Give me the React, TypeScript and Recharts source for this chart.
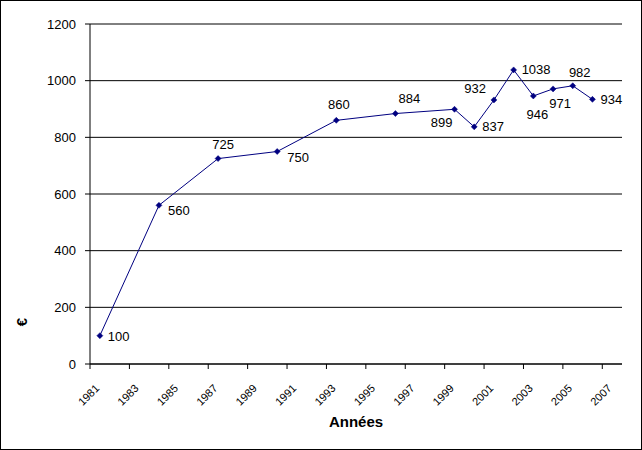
import { LineChart, Line, XAxis, YAxis, CartesianGrid } from 'recharts'

// only the years that have a value; the axis still runs 1981-2007
const years = [1981, 1984, 1987, 1990, 1993, 1996, 1999, 2000, 2001, 2002, 2003, 2004, 2005, 2006]
const values = [100, 560, 725, 750, 860, 884, 899, 837, 932, 1038, 946, 971, 982, 934]

const xTickYears = [1981, 1983, 1985, 1987, 1989, 1991, 1993, 1995, 1997, 1999, 2001, 2003, 2005, 2007]
const yTicks = [0, 200, 400, 600, 800, 1000, 1200]

const xTitle = 'Années'
const yTitle = '€'

const data = years.map((year, i) => ({ year, value: values[i] }))

const FONT = '"Liberation Sans", Arial, sans-serif'
const NAVY = '#000080'

// label placement around each point: dx, dy (to text middle), anchor
const labelPlacement: [number, number, 'start' | 'middle' | 'end'][] = [
  [8, 1, 'start'],
  [9, 5, 'start'],
  [5, -14, 'middle'],
  [10, 6, 'start'],
  [2.5, -16, 'middle'],
  [14, -15, 'middle'],
  [-2, 13, 'end'],
  [8, 0, 'start'],
  [-8, -11, 'end'],
  [8, 0, 'start'],
  [4, 19, 'middle'],
  [7, 15, 'middle'],
  [7, -13, 'middle'],
  [8, 0, 'start'],
]

const Marker = (props: any) => {
  const { cx, cy } = props
  if (cx == null || cy == null) return null
  const s = 3
  return (
    <path
      d={`M${cx},${cy - s} L${cx + s},${cy} L${cx},${cy + s} L${cx - s},${cy} Z`}
      fill={NAVY}
      stroke={NAVY}
      strokeWidth={0.5}
    />
  )
}

const ValueLabel = (props: any) => {
  const { x, y, value, index } = props
  const p = labelPlacement[index] || [8, 0, 'start']
  return (
    <text
      x={x + p[0]}
      y={y + p[1] + 4.5}
      textAnchor={p[2]}
      fontSize={13}
      fontFamily={FONT}
      fill="#000"
    >
      {value}
    </text>
  )
}

const YearTick = (props: any) => {
  const { x, y, payload } = props
  return (
    <text
      transform={`translate(${x + 10},${y + 18}) rotate(-45)`}
      textAnchor="end"
      fontSize={11}
      fontFamily={FONT}
      fill="#000"
    >
      {payload.value + 0.5}
    </text>
  )
}

export default function App() {
  return (
    <div style={{ position: 'fixed', left: 0, top: 0, width: 642, height: 450, background: '#fff' }}>
      <LineChart width={642} height={450} data={data} margin={{ top: 24, right: 20, bottom: 0, left: 0 }}>
        <CartesianGrid horizontal vertical={false} stroke="#000" strokeWidth={1} />
        <XAxis
          dataKey="year"
          type="number"
          domain={[1980.5, 2007.5]}
          ticks={xTickYears.map(y => y - 0.5)}
          interval={0}
          height={86}
          stroke="#000"
          tickSize={5}
          tick={<YearTick />}
          label={(p: any) => (
            <text
              x={p.viewBox.x + p.viewBox.width / 2}
              y={p.viewBox.y + 63}
              textAnchor="middle"
              fontSize={15}
              fontWeight="bold"
              fontFamily={FONT}
              fill="#000"
            >
              {xTitle}
            </text>
          )}
        />
        <YAxis
          domain={[0, 1200]}
          ticks={yTicks}
          width={90}
          stroke="#000"
          tickSize={5}
          tickMargin={9}
          tick={{ fontSize: 13, fontFamily: FONT, fill: '#000' }}
          label={() => (
            <text
              transform="translate(27,322) rotate(-90)"
              textAnchor="middle"
              fontSize={15}
              fontWeight="bold"
              fontFamily={FONT}
              fill="#000"
            >
              {yTitle}
            </text>
          )}
        />
        <Line
          dataKey="value"
          stroke={NAVY}
          strokeWidth={1}
          dot={<Marker />}
          activeDot={false}
          label={<ValueLabel />}
          isAnimationActive={false}
        />
      </LineChart>
      <div
        style={{
          position: 'absolute',
          left: 0,
          top: 0,
          width: 642,
          height: 450,
          border: '1px solid #000',
          boxSizing: 'border-box',
          pointerEvents: 'none',
        }}
      />
    </div>
  )
}
